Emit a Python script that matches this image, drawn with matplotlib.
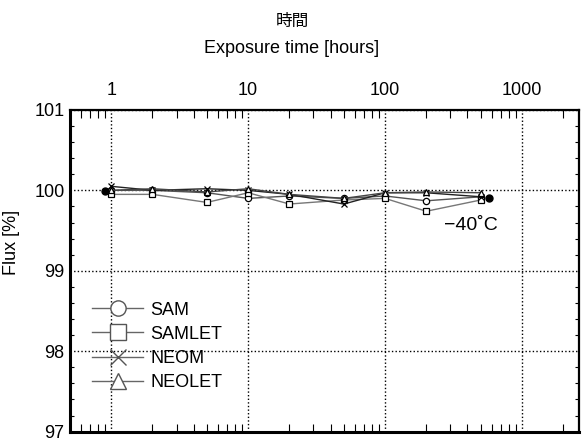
import numpy as np
import matplotlib
matplotlib.use('Agg')
import matplotlib.pyplot as plt
from matplotlib.lines import Line2D
from matplotlib.ticker import FixedLocator, LogLocator, MultipleLocator, NullFormatter

plt.rcParams['font.family'] = ['Liberation Sans', 'Noto Sans CJK JP', 'DejaVu Sans']

# ==========================================
# Data
# ==========================================
hours = [1, 2, 5, 10, 20, 50, 100, 200, 500]
sam = [100.00, 100.00, 99.97, 99.90, 99.93, 99.90, 99.93, 99.87, 99.92]
samlet = [99.95, 99.95, 99.85, 99.97, 99.83, 99.88, 99.90, 99.74, 99.88]
neom = [100.05, 100.00, 100.02, 100.00, 99.95, 99.83, 99.97, 99.97, 99.92]
neolet = [100.00, 100.02, 99.98, 100.02, 99.95, 99.90, 99.97, 99.98, 99.97]
ref_hours = [0.9, 570]
ref_flux = [99.99, 99.90]

series = [
    ('SAM', sam, 'o', '#555555'),
    ('SAMLET', samlet, 's', '#777777'),
    ('NEOM', neom, 'x', '#222222'),
    ('NEOLET', neolet, '^', '#444444'),
]

x_ticks = [1, 10, 100, 1000]
x_ticklabels = ['1', '10', '100', '1000']
y_ticks = [97, 98, 99, 100, 101]

# ==========================================
# Figure
# ==========================================
fig = plt.figure(figsize=(5.84, 4.45), dpi=100)
ax = fig.add_axes([0.12, 0.03, 0.871, 0.723])

ax.plot(ref_hours, ref_flux, 'o', color='black', ms=5, zorder=5)
for name, vals, mk, col in series:
    ax.plot(hours, vals, color=col, lw=1.0, marker=mk, ms=4.5,
            mfc='white', mec='black', mew=0.9, zorder=4)

ax.set_xscale('log')
ax.set_xlim(0.5, 2600)
ax.set_ylim(97, 101)

# axis at top
ax.xaxis.set_ticks_position('both')
ax.xaxis.set_label_position('top')
ax.xaxis.set_major_locator(FixedLocator(x_ticks))
ax.set_xticklabels(x_ticklabels)
ax.xaxis.set_minor_locator(LogLocator(base=10, subs=np.arange(2, 10)))
ax.xaxis.set_minor_formatter(NullFormatter())
ax.tick_params(axis='x', which='both', labelbottom=False, labeltop=True,
               direction='in', labelsize=13, pad=8)
ax.tick_params(axis='x', which='major', length=0)
ax.tick_params(axis='x', which='minor', length=6, width=0.8)

ax.set_yticks(y_ticks)
ax.yaxis.set_minor_locator(MultipleLocator(0.2))
ax.yaxis.set_ticks_position('both')
ax.tick_params(axis='y', which='both', direction='in', labelsize=13)
ax.tick_params(axis='y', which='major', length=0, pad=4)
ax.tick_params(axis='y', which='minor', length=3, width=0.8)

ax.grid(True, which='major', color='black', ls=(0, (1, 1.6)), lw=1.0)

for side in ['left', 'bottom']:
    ax.spines[side].set_linewidth(2.2)
for side in ['top', 'right']:
    ax.spines[side].set_linewidth(1.6)

ax.set_ylabel('Flux [%]', fontsize=13)
ax.yaxis.set_label_coords(-0.098, 0.587)

fig.text(0.50, 0.890, 'Exposure time [hours]', ha='center', va='center', fontsize=13)
fig.text(0.50, 0.952, '時間', ha='center', va='center', fontsize=12,
         family=['Noto Sans CJK JP', 'DejaVu Sans'])

ax.text(425, 99.56, '\u221240\u02daC', ha='center', va='center', fontsize=14)

handles = [Line2D([0], [0], color='#666666', lw=1.0, marker=mk, ms=11,
                  mfc='white', mec='#555555', mew=1.0)
           for name, vals, mk, col in series]
leg = ax.legend(handles, [s[0] for s in series], loc='upper left',
                bbox_to_anchor=(0.012, 0.455), frameon=False, fontsize=13,
                handlelength=2.8, labelspacing=0.4, handletextpad=0.4)

fig.savefig('out.png', dpi=100)
